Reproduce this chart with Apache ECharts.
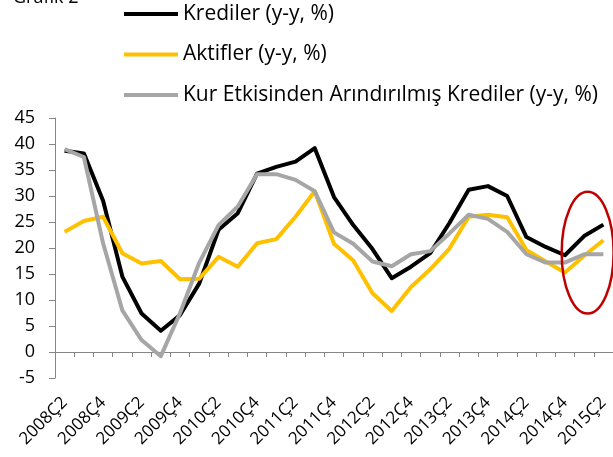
<!DOCTYPE html>
<html>
<head>
<meta charset="utf-8">
<script src="https://cdn.jsdelivr.net/npm/echarts@6/dist/echarts.min.js"></script>
<style>
  html, body { margin: 0; padding: 0; background: #fff; }
</style>
</head>
<body>
<div id="chart" style="width: 613px; height: 457px"></div>
<script>
// quarters (Ç = çeyrek)
var quarters = ['2008Ç2', '2008Ç3', '2008Ç4', '2009Ç1', '2009Ç2', '2009Ç3', '2009Ç4', '2010Ç1',
  '2010Ç2', '2010Ç3', '2010Ç4', '2011Ç1', '2011Ç2', '2011Ç3', '2011Ç4', '2012Ç1',
  '2012Ç2', '2012Ç3', '2012Ç4', '2013Ç1', '2013Ç2', '2013Ç3', '2013Ç4', '2014Ç1',
  '2014Ç2', '2014Ç3', '2014Ç4', '2015Ç1', '2015Ç2'];

var krediler = [38.7, 38.2, 29.1, 14.5, 7.4, 4.1, 7.1, 13.2,
  23.5, 26.7, 34.3, 35.6, 36.6, 39.2, 29.8, 24.4,
  19.8, 14.2, 16.4, 19.0, 24.8, 31.2, 31.9, 30.0,
  22.1, 20.2, 18.6, 22.3, 24.5];

var aktifler = [23.1, 25.2, 26.0, 19.0, 17.0, 17.5, 14.0, 14.1,
  18.3, 16.4, 20.9, 21.7, 26.0, 30.9, 20.8, 17.6,
  11.3, 7.9, 12.5, 15.9, 19.9, 26.0, 26.4, 25.9,
  19.6, 17.4, 15.3, 18.5, 21.5];

var kurEtkisiz = [39.0, 37.5, 20.9, 8.0, 2.3, -0.8, 7.5, 17.2,
  24.4, 28.0, 34.2, 34.2, 33.1, 30.9, 23.0, 20.8,
  17.4, 16.5, 18.8, 19.4, 22.8, 26.4, 25.6, 23.1,
  18.8, 17.2, 17.2, 18.8, 18.8];

var seriesNames = ['Krediler (y-y, %)', 'Aktifler (y-y, %)', 'Kur Etkisinden Arındırılmış Krediler (y-y, %)'];
var seriesColors = ['#000000', '#FFC000', '#A6A6A6'];

var yMin = -5, yMax = 45, yStep = 5;

var font = '"Open Sans", "Noto Sans", sans-serif';

var myChart = echarts.init(document.getElementById('chart'));

function lineSeries(name, data, color) {
  return {
    name: name,
    type: 'line',
    data: data,
    xAxisIndex: 0,
    symbol: 'none',
    smooth: false,
    lineStyle: { color: color, width: 4, join: 'round' },
    itemStyle: { color: color },
    z: 3
  };
}

var option = {
  animation: false,
  title: {
    text: 'Grafik 2',
    left: 8,
    top: -16,
    textStyle: { fontFamily: font, fontSize: 18, fontWeight: 'normal', color: '#000' }
  },
  legend: {
    orient: 'vertical',
    left: 124,
    top: 2,
    padding: 0,
    itemWidth: 54,
    itemHeight: 4,
    itemGap: 16.5,
    icon: 'rect',
    selectedMode: false,
    data: seriesNames,
    textStyle: { fontFamily: font, fontSize: 21, color: '#000', lineHeight: 24 }
  },
  grid: {
    left: 55,
    right: -3,
    top: 118,
    bottom: 79,
    containLabel: false
  },
  xAxis: [
    {
      type: 'category',
      data: quarters,
      boundaryGap: true,
      axisLine: { onZero: true, lineStyle: { color: '#868686', width: 1 } },
      axisTick: { show: true, length: 5, alignWithLabel: false, interval: 0, lineStyle: { color: '#868686' } },
      axisLabel: { show: false },
      splitLine: { show: false }
    },
    {
      type: 'category',
      data: quarters,
      boundaryGap: true,
      position: 'bottom',
      axisLine: { show: false, onZero: false },
      axisTick: { show: false },
      axisLabel: {
        interval: 1,
        rotate: 45,
        margin: 22,
        fontFamily: font,
        fontSize: 17,
        color: '#000'
      },
      splitLine: { show: false }
    }
  ],
  yAxis: {
    type: 'value',
    min: yMin,
    max: yMax,
    interval: yStep,
    axisLine: { show: true, lineStyle: { color: '#868686', width: 1 } },
    axisTick: { show: true, length: 6, lineStyle: { color: '#868686' } },
    axisLabel: { margin: 20, fontFamily: font, fontSize: 18, color: '#000' },
    splitLine: { show: false }
  },
  series: [
    lineSeries(seriesNames[0], krediler, seriesColors[0]),
    lineSeries(seriesNames[1], aktifler, seriesColors[1]),
    lineSeries(seriesNames[2], kurEtkisiz, seriesColors[2])
  ]
};

myChart.setOption(option);

// red ellipse highlighting the last quarters
var ellCenter = myChart.convertToPixel({ xAxisIndex: 0, yAxisIndex: 0 }, [27, 19.1]);
var ellTopY = myChart.convertToPixel({ xAxisIndex: 0, yAxisIndex: 0 }, [27, 30.8])[1];
var ellLeftX = myChart.convertToPixel({ xAxisIndex: 0, yAxisIndex: 0 }, [26, 19.1])[0];
var ellRy = ellCenter[1] - ellTopY;
var ellRx = (ellCenter[0] - ellLeftX) * 1.35;
myChart.setOption({
  graphic: [{
    type: 'ellipse',
    shape: { cx: ellCenter[0] + 3.5, cy: ellCenter[1], rx: ellRx, ry: ellRy },
    style: { fill: 'none', stroke: '#C00000', lineWidth: 2.5 },
    z: 10
  }]
});
</script>
</body>
</html>
